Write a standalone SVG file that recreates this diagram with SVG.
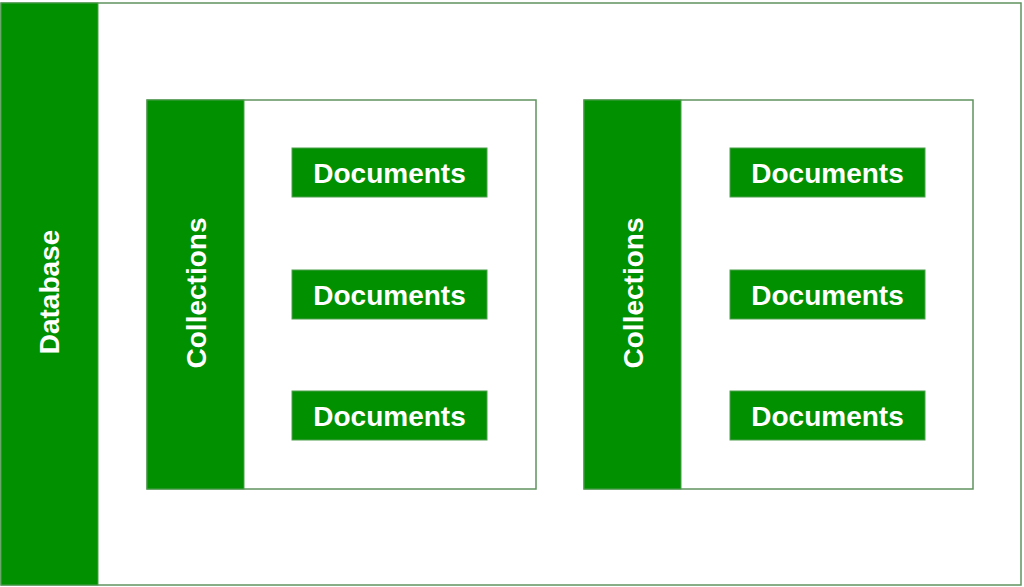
<svg xmlns="http://www.w3.org/2000/svg" width="1024" height="587" viewBox="0 0 1024 587">
<style>
.box{fill:#ffffff;stroke:#5f935f;stroke-width:1.5}
.bar{fill:#009000;stroke:#4fa04f;stroke-width:1}
.lbl{fill:#ffffff;font-family:"Liberation Sans",Arial,sans-serif;font-weight:bold;font-size:28px;text-anchor:middle;dominant-baseline:central}
</style>
<rect width="1024" height="587" fill="#ffffff"/>
<g id="database">
<rect class="box" x="1" y="3" width="1020" height="582"/>
<rect class="bar" x="1" y="3" width="97" height="582"/>
<text class="lbl" transform="translate(49,292) rotate(-90)">Database</text>
</g>
<g id="collection1">
<rect class="box" x="147" y="100" width="389" height="389"/>
<rect class="bar" x="147" y="100" width="97" height="389"/>
<text class="lbl" transform="translate(196,293) rotate(-90)">Collections</text>
</g>
<g id="doc1a"><rect class="bar" x="292" y="148" width="195" height="49"/><text class="lbl" x="389.5" y="173">Documents</text></g>
<g id="doc1b"><rect class="bar" x="292" y="270" width="195" height="49"/><text class="lbl" x="389.5" y="295">Documents</text></g>
<g id="doc1c"><rect class="bar" x="292" y="391" width="195" height="49"/><text class="lbl" x="389.5" y="416">Documents</text></g>
<g id="collection2">
<rect class="box" x="584" y="100" width="389" height="389"/>
<rect class="bar" x="584" y="100" width="97" height="389"/>
<text class="lbl" transform="translate(633,293) rotate(-90)">Collections</text>
</g>
<g id="doc2a"><rect class="bar" x="730" y="148" width="195" height="49"/><text class="lbl" x="827.5" y="173">Documents</text></g>
<g id="doc2b"><rect class="bar" x="730" y="270" width="195" height="49"/><text class="lbl" x="827.5" y="295">Documents</text></g>
<g id="doc2c"><rect class="bar" x="730" y="391" width="195" height="49"/><text class="lbl" x="827.5" y="416">Documents</text></g>
<g id="connectors"></g>
</svg>
